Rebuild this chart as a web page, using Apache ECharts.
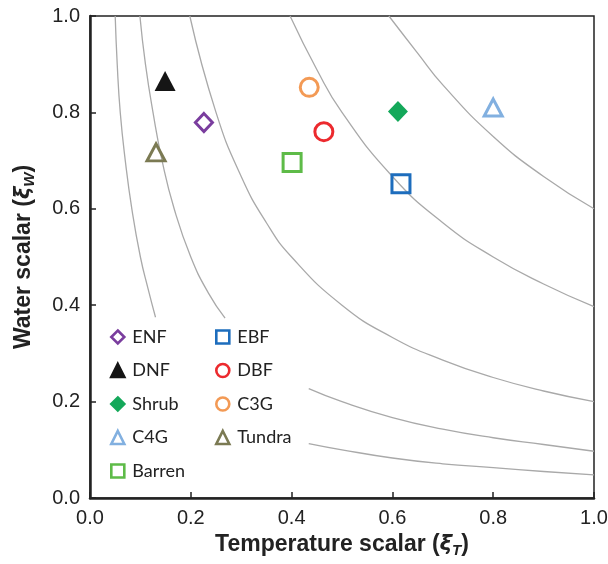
<!DOCTYPE html>
<html>
<head>
<meta charset="utf-8">
<script src="https://cdn.jsdelivr.net/npm/echarts@6/dist/echarts.min.js"></script>
<style>
  html, body { margin: 0; padding: 0; background: #fff; }
  #main { width: 608px; height: 564px; }
</style>
</head>
<body>
<div id="main"></div>
<script>
// biome points: [temperature scalar, water scalar]
var biomes = ['ENF', 'DNF', 'Shrub', 'C4G', 'Barren', 'EBF', 'DBF', 'C3G', 'Tundra'];
var biomeX = [0.226, 0.149, 0.611, 0.800, 0.401, 0.617, 0.464, 0.435, 0.131];
var biomeY = [0.779, 0.865, 0.802, 0.810, 0.696, 0.652, 0.760, 0.852, 0.717];
var legendCol1 = ['ENF', 'DNF', 'Shrub', 'C4G', 'Barren'];
var legendCol2 = ['EBF', 'DBF', 'C3G', 'Tundra'];

// gray contour lines (one array per visible piece)
var curve005a = [[0.050, 1.0], [0.054, 0.9], [0.060, 0.8], [0.070, 0.7], [0.083, 0.6], [0.100, 0.5], [0.115, 0.435], [0.130, 0.375]];
var curve005b = [[0.434, 0.113], [0.5, 0.1], [0.6, 0.083], [0.7, 0.071], [0.8, 0.063], [0.9, 0.055], [1.0, 0.048]];
var curve01a = [[0.099, 1.0], [0.11, 0.9], [0.125, 0.8], [0.143, 0.7], [0.167, 0.6], [0.2, 0.5], [0.235, 0.425], [0.268, 0.373]];
var curve01b = [[0.434, 0.227], [0.5, 0.2], [0.6, 0.167], [0.7, 0.143], [0.8, 0.125], [0.9, 0.111], [1.0, 0.097]];
var curve02 = [[0.198, 1.0], [0.25, 0.8], [0.3, 0.667], [0.35, 0.571], [0.4, 0.5], [0.5, 0.4], [0.6, 0.333], [0.7, 0.286], [0.8, 0.25], [0.9, 0.222], [1.0, 0.2]];
var curve04 = [[0.397, 1.0], [0.45, 0.889], [0.5, 0.8], [0.6, 0.667], [0.7, 0.571], [0.8, 0.5], [0.9, 0.444], [1.0, 0.397]];
var curve06 = [[0.593, 1.0], [0.65, 0.923], [0.7, 0.857], [0.8, 0.75], [0.9, 0.667], [1.0, 0.6]];

var styles = {
  ENF:    { symbol: 'diamond',  color: '#7a3d9e', hollow: true,  size: [17, 18] },
  DNF:    { symbol: 'triangle', color: '#151515', hollow: false, size: [21, 20] },
  Shrub:  { symbol: 'diamond',  color: '#14a85a', hollow: false, size: [20, 21] },
  C4G:    { symbol: 'triangle', color: '#82b0e0', hollow: true,  size: [18, 17] },
  Barren: { symbol: 'rect',     color: '#5ebb48', hollow: true,  size: 18 },
  EBF:    { symbol: 'rect',     color: '#1d6dbd', hollow: true,  size: 18 },
  DBF:    { symbol: 'circle',   color: '#ec2a2e', hollow: true,  size: 18 },
  C3G:    { symbol: 'circle',   color: '#f39a55', hollow: true,  size: 18 },
  Tundra: { symbol: 'triangle', color: '#7b7a53', hollow: true,  size: [18, 17] }
};

function markStyle(s, w, edge) {
  if (s.hollow) {
    return { color: 'rgba(255,255,255,0)', borderColor: s.color, borderWidth: w, opacity: 1 };
  }
  return { color: s.color, borderColor: s.color, borderWidth: edge ? w : 0, opacity: 1 };
}

var series = [];
[curve005a, curve005b, curve01a, curve01b, curve02, curve04, curve06].forEach(function (c) {
  series.push({
    type: 'line', data: c, smooth: true, symbol: 'none', silent: true,
    lineStyle: { color: '#a9a9a9', width: 1.3 }, z: 1
  });
});
biomes.forEach(function (b, i) {
  var s = styles[b];
  series.push({
    name: b, type: 'scatter', symbol: s.symbol, symbolSize: s.size,
    data: [[biomeX[i], biomeY[i]]],
    itemStyle: markStyle(s, 3, false),
    z: 3
  });
});

function legendData(names) {
  return names.map(function (n) {
    var s = styles[n];
    return { name: n, icon: s.symbol, itemStyle: markStyle(s, 2.6, true) };
  });
}

var legendCommon = {
  orient: 'vertical', padding: 0, itemWidth: 13, itemHeight: 13, itemGap: 15.5,
  selectedMode: false,
  textStyle: { fontFamily: 'Lato', fontSize: 18, lineHeight: 18, color: '#222', padding: [0, 0, 0, 3] }
};

var nameRich = {
  b: { fontFamily: 'Liberation Sans', fontWeight: 'bold', fontSize: 23, color: '#222' },
  i: { fontFamily: 'DejaVu Sans', fontStyle: 'italic', fontWeight: 'bold', fontSize: 21, color: '#222' },
  s: { fontFamily: 'Liberation Sans', fontStyle: 'italic', fontWeight: 'bold', fontSize: 15, color: '#222', padding: [11, 0, 0, 0] }
};

var option = {
  backgroundColor: '#fff',
  animation: false,
  grid: { left: 90, right: 14, top: 16, bottom: 66, show: true, borderColor: '#222', borderWidth: 1.5,
    outerBoundsMode: 'none', containLabel: false },
  legend: [
    Object.assign({ left: 110, top: 328, data: legendData(legendCol1) }, legendCommon),
    Object.assign({ left: 215, top: 328, data: legendData(legendCol2) }, legendCommon)
  ],
  xAxis: {
    type: 'value', min: 0, max: 1, interval: 0.2,
    name: '{b|Temperature scalar (}{i|ξ}{s|T}{b|)}',
    nameLocation: 'middle', nameGap: 34,
    nameTextStyle: { rich: nameRich },
    axisLine: { show: true, lineStyle: { color: '#222', width: 2.5 } },
    axisTick: { show: true, inside: true, length: 6, lineStyle: { color: '#222', width: 1.5 } },
    axisLabel: { margin: 10, fontFamily: 'Liberation Sans', fontSize: 20, color: '#222',
      formatter: function (v) { return v.toFixed(1); } },
    splitLine: { show: false }
  },
  yAxis: {
    type: 'value', min: 0, max: 1, interval: 0.2,
    name: '{b|Water scalar (}{i|ξ}{s|W}{b|)}',
    nameLocation: 'middle', nameGap: 53,
    nameTextStyle: { rich: nameRich },
    axisLine: { show: true, lineStyle: { color: '#222', width: 2.5 } },
    axisTick: { show: true, inside: true, length: 6, lineStyle: { color: '#222', width: 1.5 } },
    axisLabel: { margin: 10, fontFamily: 'Liberation Sans', fontSize: 20, color: '#222',
      formatter: function (v) { return v.toFixed(1); } },
    splitLine: { show: false }
  },
  series: series
};

var myChart = echarts.init(document.getElementById('main'));
myChart.setOption(option);
</script>
</body>
</html>
